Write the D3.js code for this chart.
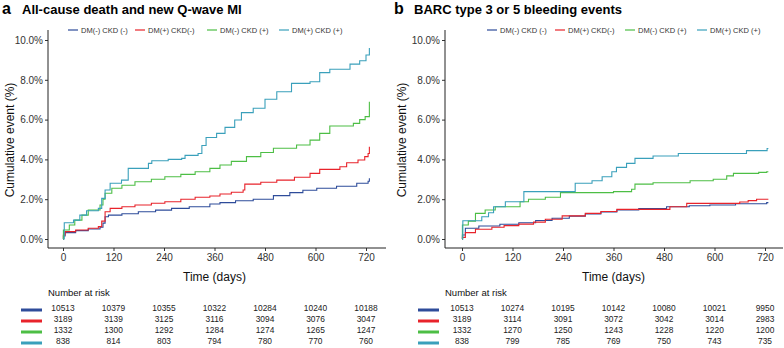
<!DOCTYPE html>
<html>
<head>
<meta charset="utf-8">
<script src="https://cdn.jsdelivr.net/npm/d3@7"></script>
<style>
  body { margin: 0; background: #fff; }
  text { font-family: "Liberation Sans", Arial, sans-serif; }
</style>
</head>
<body>
<div class="chart"></div>
<script>
// groups, in legend order
var groups = ["DM(-) CKD (-)", "DM(+) CKD(-)", "DM(-) CKD (+)", "DM(+) CKD (+)"];
var colors = ["#2E4C9A", "#E8232B", "#4DBE45", "#3AA0BB"];
var xTicks = [0, 120, 240, 360, 480, 600, 720];
var yTicks = [0, 2, 4, 6, 8, 10];

// panel a - all-cause death and new Q-wave MI, [day, cumulative %]
var deathDmNoCkdNo = [[0,0],[1,0.15],[5,0.32],[30,0.42],[60,0.5],[88,0.59],[95,0.8],[100,1.12],[108,1.2],[140,1.27],[179,1.37],[220,1.45],[258,1.54],[300,1.62],[349,1.76],[373,1.83],[410,1.92],[452,2.0],[500,2.18],[539,2.33],[570,2.45],[603,2.55],[650,2.65],[698,2.8],[725,2.9],[728,3.05]];
var deathDmYesCkdNo = [[0,0],[1,0.2],[5,0.37],[30,0.45],[60,0.54],[84,0.62],[92,0.9],[100,1.37],[112,1.54],[140,1.62],[171,1.71],[210,1.8],[242,1.87],[280,2.0],[314,2.1],[349,2.16],[373,2.26],[400,2.35],[428,2.46],[432,2.76],[470,2.85],[508,2.96],[550,3.1],[587,3.3],[610,3.5],[658,3.63],[674,3.83],[701,3.97],[717,4.14],[725,4.3],[728,4.64]];
var deathDmNoCkdYes = [[0,0],[1,0.45],[15,0.7],[28,0.95],[45,1.2],[60,1.46],[88,1.71],[95,2.0],[100,2.3],[116,2.55],[140,2.7],[171,2.88],[210,3.0],[242,3.13],[280,3.25],[314,3.38],[349,3.55],[373,3.72],[400,3.9],[436,4.14],[470,4.35],[500,4.56],[555,4.72],[587,4.97],[610,5.31],[634,5.68],[690,5.81],[705,6.0],[718,6.15],[728,6.9]];
var deathDmYesCkdYes = [[0,0],[3,0.82],[25,0.95],[40,1.2],[56,1.42],[84,1.54],[92,2.04],[100,2.46],[112,2.8],[139,2.96],[155,3.55],[203,3.8],[211,3.93],[250,4.0],[282,4.05],[290,4.2],[321,4.3],[330,4.7],[340,5.1],[365,5.31],[385,5.61],[408,5.98],[424,6.35],[452,6.57],[480,7.02],[508,7.4],[543,7.82],[587,7.9],[610,8.36],[634,8.53],[682,8.79],[705,8.96],[720,9.25],[728,9.6]];

// panel b - BARC type 3 or 5 bleeding
var bleedDmNoCkdNo = [[0,0],[1,0.2],[8,0.54],[40,0.65],[90,0.74],[135,0.82],[175,0.93],[214,1.04],[255,1.15],[293,1.26],[330,1.36],[368,1.46],[420,1.53],[486,1.62],[540,1.67],[589,1.71],[650,1.77],[724,1.83],[728,1.83]];
var bleedDmYesCkdNo = [[0,0],[1,0.08],[8,0.32],[32,0.49],[71,0.59],[100,0.67],[135,0.75],[170,0.85],[198,0.99],[238,1.16],[293,1.29],[330,1.38],[368,1.49],[431,1.49],[494,1.62],[534,1.79],[660,1.86],[680,1.93],[700,2.0],[728,2.0]];
var bleedDmNoCkdYes = [[0,0],[1,0.7],[15,0.9],[32,1.29],[55,1.46],[79,1.62],[138,1.87],[158,2.0],[198,2.1],[234,2.33],[360,2.38],[403,2.5],[411,2.76],[454,2.83],[542,2.93],[597,3.0],[629,3.17],[645,3.3],[705,3.35],[724,3.38],[728,3.38]];
var bleedDmYesCkdYes = [[0,0],[2,0.92],[47,1.12],[63,1.32],[75,1.62],[103,1.87],[147,2.38],[269,2.8],[309,2.93],[333,3.13],[356,3.38],[367,3.6],[391,3.8],[411,4.05],[454,4.17],[514,4.3],[676,4.44],[725,4.55],[728,4.55]];

// number at risk
var riskDeath = [
  [10513, 10379, 10355, 10322, 10284, 10240, 10188],
  [3189, 3139, 3125, 3116, 3094, 3076, 3047],
  [1332, 1300, 1292, 1284, 1274, 1265, 1247],
  [838, 814, 803, 794, 780, 770, 760]
];
var riskBleed = [
  [10513, 10274, 10195, 10142, 10080, 10021, 9950],
  [3189, 3114, 3091, 3072, 3042, 3014, 2983],
  [1332, 1270, 1250, 1243, 1228, 1220, 1200],
  [838, 799, 785, 769, 750, 743, 735]
];

var panels = [
  { letter: "a", title: "All-cause death and new Q-wave MI", left: 0, axisX: 48, x0: 63, x1: 366,
    series: [deathDmNoCkdNo, deathDmYesCkdNo, deathDmNoCkdYes, deathDmYesCkdYes], risk: riskDeath,
    legendX: [68, 135, 207, 279] },
  { letter: "b", title: "BARC type 3 or 5 bleeding events", left: 392, axisX: 445, x0: 462, x1: 765,
    series: [bleedDmNoCkdNo, bleedDmYesCkdNo, bleedDmNoCkdYes, bleedDmYesCkdYes], risk: riskBleed,
    legendX: [487, 555, 625, 697] }
];

var svg = d3.select(".chart").append("svg")
  .attr("width", 784)
  .attr("height", 348);

var y = d3.scaleLinear().domain([0, 10]).range([239, 40]);
var axisY = 248;

panels.forEach(function (p) {
  var x = d3.scaleLinear().domain([0, 720]).range([p.x0, p.x1]);
  var g = svg.append("g");

  // titles
  g.append("text").attr("x", p.left + 2).attr("y", 14)
    .attr("font-size", 16).attr("font-weight", "bold").text(p.letter);
  g.append("text").attr("x", p.left + 22).attr("y", 14)
    .attr("font-size", 13).attr("font-weight", "bold").text(p.title);

  // legend
  groups.forEach(function (name, i) {
    var lx = p.legendX[i];
    g.append("line").attr("x1", lx).attr("x2", lx + 10).attr("y1", 30).attr("y2", 30)
      .attr("stroke", colors[i]).attr("stroke-width", 1.2);
    g.append("text").attr("x", lx + 13).attr("y", 30).attr("dy", "0.35em")
      .attr("font-size", 7.5).attr("fill", "#333").text(name);
  });

  // axes
  var xAxis = g.append("g").attr("transform", "translate(0," + axisY + ")")
    .call(d3.axisBottom(x).tickValues(xTicks).tickSize(3).tickPadding(3));
  var yAxis = g.append("g").attr("transform", "translate(" + p.axisX + ",0)")
    .call(d3.axisLeft(y).tickValues(yTicks).tickSize(3).tickPadding(2)
      .tickFormat(function (d) { return d.toFixed(1) + "%"; }));
  [xAxis, yAxis].forEach(function (a) {
    a.select(".domain").remove();
    a.selectAll("line").attr("stroke", "#333");
    a.selectAll("text").attr("font-size", 10).attr("fill", "#333")
      .attr("font-family", "'Liberation Sans', Arial, sans-serif");
  });
  g.append("line").attr("x1", p.axisX).attr("x2", p.axisX).attr("y1", 30).attr("y2", axisY)
    .attr("stroke", "#222").attr("stroke-width", 1);
  g.append("line").attr("x1", p.axisX).attr("x2", p.axisX + 338).attr("y1", axisY).attr("y2", axisY)
    .attr("stroke", "#222").attr("stroke-width", 1);

  g.append("text").attr("x", (p.x0 + p.x1) / 2).attr("y", 281)
    .attr("text-anchor", "middle").attr("font-size", 12).attr("fill", "#111").text("Time (days)");
  g.append("text")
    .attr("transform", "translate(" + (p.left + 14) + "," + 140 + ") rotate(-90)")
    .attr("text-anchor", "middle").attr("font-size", 12).attr("fill", "#111").text("Cumulative event (%)");

  // curves
  var line = d3.line()
    .x(function (d) { return x(d[0]); })
    .y(function (d) { return y(d[1]); })
    .curve(d3.curveStepAfter);
  p.series.forEach(function (s, i) {
    g.append("path").datum(s).attr("d", line)
      .attr("fill", "none").attr("stroke", colors[i]).attr("stroke-width", 1.1);
  });

  // number at risk table
  g.append("text").attr("x", p.axisX).attr("y", 296)
    .attr("font-size", 9.5).attr("fill", "#111").text("Number at risk");
  var rowY = [308.5, 319.5, 330.5, 341.5];
  p.risk.forEach(function (row, i) {
    g.append("line").attr("x1", p.axisX - 27).attr("x2", p.axisX - 6)
      .attr("y1", rowY[i] + 1.5).attr("y2", rowY[i] + 1.5)
      .attr("stroke", colors[i]).attr("stroke-width", 3);
    g.selectAll(null).data(row).enter().append("text")
      .attr("x", function (d, j) { return x(xTicks[j]); })
      .attr("y", rowY[i]).attr("dy", "0.35em")
      .attr("text-anchor", "middle").attr("font-size", 8.4).attr("fill", "#222")
      .text(function (d) { return d; });
  });
});
</script>
</body>
</html>
